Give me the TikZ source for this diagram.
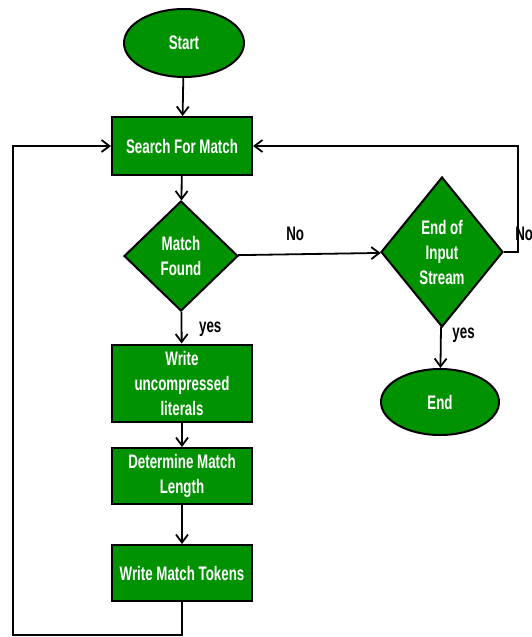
\documentclass[tikz,border=0pt]{standalone}
\usepackage{fontspec}
\setmainfont{Liberation Sans}[FakeStretch=0.68]
\usetikzlibrary{shapes.geometric,arrows.meta}
\definecolor{flowgreen}{RGB}{0,146,0}

\begin{document}
\begin{tikzpicture}[x=0.5pt, y=-0.5pt,
    font=\fontsize{9.8}{12.5}\selectfont\bfseries,
    base/.style={draw=black, line width=1pt, fill=flowgreen, text=white, inner sep=0pt, align=center},
    term/.style={base, ellipse},
    proc/.style={base, rectangle, minimum width=70pt},
    test/.style={base, diamond},
    >={Straight Barb[length=4pt, width=6pt]},
    flow/.style={->, line width=0.9pt}
  ]
    \useasboundingbox (0,0) rectangle (531,637);
    \node[term, minimum width=60pt, minimum height=34pt] (start) at (184,43) {Start};
    \node[proc, minimum height=29pt] (search) at (182,146) {Search For Match};
    \node[test, minimum width=57pt, minimum height=55pt] (match) at (181,256) {Match\\Found};
    \node[test, minimum width=61pt, minimum height=75pt] (eois) at (442,252) {End of\\Input\\Stream};
    \node[term, minimum width=59pt, minimum height=33pt] (end) at (440,402) {End};
    \node[proc, minimum height=38.5pt] (lit) at (182,383) {Write\\uncompressed\\literals};
    \node[proc, minimum height=28pt] (len) at (182,476) {Determine Match\\Length};
    \node[proc, minimum height=28pt] (tok) at (182,573) {Write Match Tokens};
    \coordinate (loop) at (13,635);

    \draw[flow] (start) -- (search);
    \draw[flow] (search) -- (match);
    \draw[flow] (match) -- node[above=3pt, pos=0.4]{No} (eois);
    \draw[flow] (eois.east) -- ++(7pt,0) node[above right, inner sep=0pt, yshift=5pt, xshift=-1.8pt]{No} |- (search.east);
    \draw[flow] (eois) -- node[right, pos=0.2, xshift=2pt]{yes} (end);
    \draw[flow] (match) -- node[right, pos=0.55, xshift=5pt]{yes} (lit);
    \draw[flow] (lit) -- (len);
    \draw[flow] (len) -- (tok);
    \draw[flow] (tok.south) |- (loop) |- (search.west);
  \end{tikzpicture}
\end{document}
